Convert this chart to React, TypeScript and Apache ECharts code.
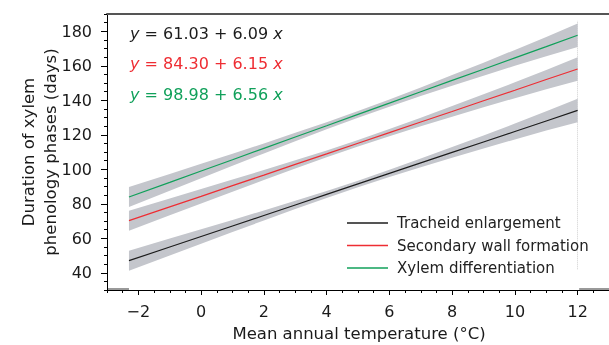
import React, { useEffect, useRef } from "react";
import * as echarts from "echarts";

// x positions (°C) where values were read
const xs = [-2.3, -1, 0, 1, 2, 3, 4, 5, 6, 7, 8, 9, 10, 11, 12];
// fitted durations (days)
const tracheid = [47.0, 54.9, 61.0, 67.1, 73.2, 79.3, 85.4, 91.5, 97.6, 103.7, 109.8, 115.8, 121.9, 128.0, 134.1];
const secondaryWall = [70.2, 78.2, 84.3, 90.5, 96.6, 102.8, 108.9, 115.1, 121.2, 127.4, 133.5, 139.7, 145.8, 152.0, 158.1];
const xylemDiff = [83.9, 92.4, 99.0, 105.5, 112.1, 118.7, 125.2, 131.8, 138.3, 144.9, 151.5, 158.0, 164.6, 171.1, 177.7];
// half width of confidence band (days)
const bandHalf = [5.8, 4.9, 4.2, 3.5, 2.9, 2.4, 2.0, 1.9, 2.1, 2.5, 3.1, 3.8, 4.6, 5.6, 6.8];

const seriesNames = ["Tracheid enlargement", "Secondary wall formation", "Xylem differentiation"];
const equations = ["61.03 + 6.09", "84.30 + 6.15", "98.98 + 6.56"];
const xTicks = [-2, 0, 2, 4, 6, 8, 10, 12];
const yTicks = [40, 60, 80, 100, 120, 140, 160, 180];

const COLORS = ["#1c1c1c", "#ee2d33", "#10a05a"];
const FONT = "DejaVu Sans";

export default function App() {
  const ref = useRef<HTMLDivElement>(null);
  useEffect(() => {
    if (!ref.current) return;
    const chart = echarts.init(ref.current, null, { renderer: "svg" });
    const lines = [tracheid, secondaryWall, xylemDiff];

    const bandSeries = lines.map((arr) => ({
      type: "custom",
      xAxisIndex: 0,
      yAxisIndex: 0,
      silent: true,
      z: 1,
      data: [[0, 100]],
      encode: { x: 0, y: 1 },
      renderItem: (_p: any, api: any) => {
        const pts: number[][] = [];
        xs.forEach((x, i) => pts.push(api.coord([x, arr[i] + bandHalf[i]])));
        for (let i = xs.length - 1; i >= 0; i--) pts.push(api.coord([xs[i], arr[i] - bandHalf[i]]));
        return { type: "polygon", shape: { points: pts }, style: { fill: "#c4c6cc" } };
      },
    }));

    const lineSeries = lines.map((arr, k) => ({
      type: "line",
      name: seriesNames[k],
      xAxisIndex: 0,
      yAxisIndex: 0,
      data: xs.map((x, i) => [x, arr[i]]),
      symbol: "none",
      z: 3,
      lineStyle: { color: COLORS[k], width: 1.2 },
      itemStyle: { color: COLORS[k] },
    }));

    const guideSeries = {
      type: "line",
      xAxisIndex: 0,
      yAxisIndex: 0,
      data: [],
      z: 0,
      silent: true,
      markLine: {
        silent: true,
        symbol: "none",
        z: 0,
        label: { show: false },
        lineStyle: { color: "#cfcfcf", type: "dotted", width: 1 },
        data: [
          [{ coord: [12, 42] }, { coord: [12, 186] }],
          [
            { coord: [-3, 30.5], lineStyle: { color: "#777", type: "solid", width: 1.5 } },
            { coord: [-2.3, 30.5] },
          ],
          [
            { coord: [12.05, 30.5], lineStyle: { color: "#777", type: "solid", width: 1.5 } },
            { coord: [13, 30.5] },
          ],
        ],
      },
    };

    const noZero = { onZero: false };

    chart.setOption({
      animation: false,
      grid: { left: 107, top: 14, right: -3, bottom: 55 },
      legend: {
        orient: "vertical",
        left: 342,
        top: 210,
        itemWidth: 41,
        itemHeight: 1.4,
        itemGap: 6.5,
        icon: "rect",
        data: seriesNames,
        textStyle: { fontSize: 15, fontFamily: FONT, color: "#222", lineHeight: 16, padding: [0, 0, 0, 4] },
      },
      xAxis: [
        {
          type: "value",
          min: -3,
          max: 13,
          position: "bottom",
          axisLine: { show: true, ...noZero, lineStyle: { color: "#000", width: 1 } },
          axisTick: { show: true, customValues: xTicks, length: 5, lineStyle: { color: "#000" } },
          axisLabel: {
            customValues: xTicks,
            fontSize: 16,
            fontFamily: FONT,
            color: "#1a1a1a",
            margin: 13,
            formatter: (v: number) => (v < 0 ? "\u2212" + Math.abs(v) : String(v)),
          },
          splitLine: { show: false },
        },
        {
          type: "value",
          min: -3,
          max: 13,
          interval: 0.5,
          position: "bottom",
          axisLine: { show: false, ...noZero },
          axisTick: { show: true, length: 3, lineStyle: { color: "#000" } },
          axisLabel: { show: false },
          splitLine: { show: false },
        },
        {
          type: "value",
          min: -3,
          max: 13,
          position: "top",
          axisLine: { show: true, ...noZero, lineStyle: { color: "#555", width: 2 } },
          axisTick: { show: false },
          axisLabel: { show: false },
          splitLine: { show: false },
        },
      ],
      yAxis: [
        {
          type: "value",
          min: 30,
          max: 190,
          position: "left",
          axisLine: { show: true, ...noZero, lineStyle: { color: "#000", width: 1 } },
          axisTick: { show: true, customValues: yTicks, length: 6, lineStyle: { color: "#000" } },
          axisLabel: { customValues: yTicks, fontSize: 16, fontFamily: FONT, color: "#1a1a1a", margin: 15 },
          splitLine: { show: false },
        },
        {
          type: "value",
          min: 30,
          max: 190,
          interval: 5,
          position: "left",
          axisLine: { show: false, ...noZero },
          axisTick: { show: true, length: 3, lineStyle: { color: "#000" } },
          axisLabel: { show: false },
          splitLine: { show: false },
        },
      ],
      graphic: [
        ...equations.map((eq, k) => ({
          type: "text",
          x: 130,
          y: 33.5 + k * 30.3,
          silent: true,
          style: {
            text: "{i|y} = " + eq + " {i|x}",
            fill: COLORS[k],
            font: `16px "${FONT}"`,
            verticalAlign: "middle",
            align: "left",
            rich: {
              i: { fontStyle: "italic", fontSize: 16, fontFamily: FONT, fill: COLORS[k] },
            },
          },
        })),
        {
          type: "text",
          x: 359,
          y: 333,
          silent: true,
          style: {
            text: "Mean annual temperature (°C)",
            fill: "#1a1a1a",
            font: `16.5px "${FONT}"`,
            align: "center",
            verticalAlign: "middle",
          },
        },
        {
          type: "text",
          x: 39,
          y: 152,
          rotation: Math.PI / 2,
          silent: true,
          style: {
            text: "Duration of xylem\nphenology phases (days)",
            fill: "#1a1a1a",
            font: `16.5px "${FONT}"`,
            lineHeight: 22,
            align: "center",
            verticalAlign: "middle",
          },
        },
      ],
      series: [guideSeries, ...bandSeries, ...lineSeries],
    });
    return () => chart.dispose();
  }, []);
  return <div ref={ref} style={{ position: "fixed", left: 0, top: 0, width: 609, height: 345 }} />;
}
